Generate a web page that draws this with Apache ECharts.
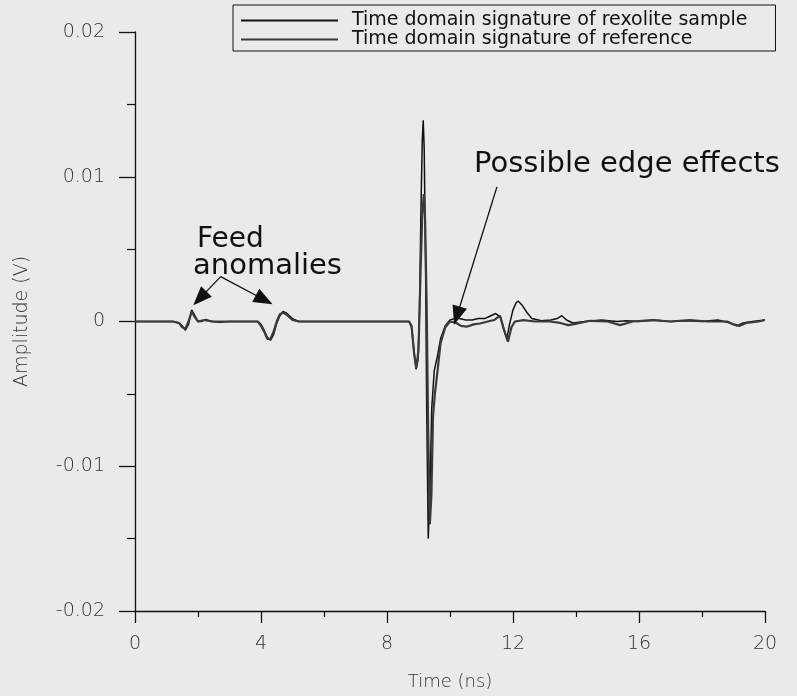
<!DOCTYPE html>
<html>
<head>
<meta charset="utf-8">
<script src="https://cdn.jsdelivr.net/npm/echarts@6/dist/echarts.min.js"></script>
<style>
html,body{margin:0;padding:0;background:#eaeaea;}
#chart{width:797px;height:696px;}
</style>
</head>
<body>
<div id="chart"></div>
<script>
// ---- data ----
var seriesNames = ['Time domain signature of rexolite sample', 'Time domain signature of reference'];

var timeSample = [0, 1.2, 1.4, 1.5, 1.6, 1.7, 1.8, 1.9, 2.0, 2.1, 2.25, 2.4, 2.7, 3.0, 3.9, 4.0, 4.1, 4.2, 4.3, 4.4, 4.5, 4.6, 4.7, 4.8, 4.9, 5.0, 5.2, 6.0, 7.0, 8.0, 8.7, 8.78, 8.85, 8.92, 8.98, 9.03, 9.08, 9.12, 9.15, 9.18, 9.22, 9.26, 9.31, 9.36, 9.42, 9.5, 9.6, 9.7, 9.85, 10.0, 10.15, 10.3, 10.5, 10.7, 10.9, 11.1, 11.3, 11.45, 11.6, 11.7, 11.8, 11.9, 12.0, 12.1, 12.17, 12.3, 12.45, 12.6, 12.9, 13.2, 13.4, 13.55, 13.7, 13.9, 14.3, 14.8, 15.3, 15.6, 16.0, 16.5, 17.0, 17.5, 18.0, 18.5, 18.9, 19.1, 19.3, 19.6, 20];
var ampSample = [0, 0, -0.0001, -0.0003, -0.0006, -0.0002, 0.0008, 0.0004, 0.0000, 0.0000, 0.00015, 0.0000, -0.00005, 0, 0, -0.0002, -0.0006, -0.0011, -0.0013, -0.0009, -0.0001, 0.0004, 0.0007, 0.0006, 0.0004, 0.0002, 0.0000, 0, 0, 0, 0, -0.0004, -0.0019, -0.0033, -0.0027, 0.0005, 0.0080, 0.0125, 0.0139, 0.0120, 0.0050, -0.0060, -0.0150, -0.0120, -0.0060, -0.0034, -0.0024, -0.0012, -0.0003, 0.0001, 0.0002, 0.0002, 0.0001, 0.0001, 0.0002, 0.0002, 0.0004, 0.00055, 0.0003, -0.0004, -0.0012, -0.0001, 0.0008, 0.0013, 0.0014, 0.0011, 0.0006, 0.0002, 0.00005, 0.0001, 0.0002, 0.0004, 0.0001, -0.0001, 0, 0.0001, 0, 0.00005, 0, 0.0001, 0, 0.00005, 0, 0.0001, -0.0001, -0.0003, -0.0001, 0, 0.0001];

var timeRef = [0, 1.2, 1.4, 1.5, 1.6, 1.7, 1.8, 1.9, 2.0, 2.2, 2.5, 3.0, 3.9, 4.0, 4.1, 4.2, 4.3, 4.4, 4.5, 4.6, 4.7, 4.8, 4.9, 5.0, 5.2, 6.0, 7.0, 8.0, 8.7, 8.78, 8.86, 8.93, 9.0, 9.06, 9.12, 9.17, 9.21, 9.26, 9.31, 9.36, 9.41, 9.46, 9.52, 9.6, 9.7, 9.85, 10.0, 10.2, 10.35, 10.53, 10.75, 10.95, 11.2, 11.4, 11.59, 11.7, 11.84, 11.95, 12.06, 12.33, 12.7, 13.17, 13.5, 13.75, 13.9, 14.44, 15.0, 15.4, 15.8, 16.4, 17.0, 17.6, 18.2, 18.8, 19.0, 19.2, 19.4, 19.8, 20];
var ampRef = [0, 0, -0.0001, -0.0004, -0.0005, 0.0000, 0.0007, 0.0003, 0.0000, 0.0001, 0, 0, 0, -0.0003, -0.0007, -0.0012, -0.0012, -0.0007, 0.0000, 0.0005, 0.0006, 0.0005, 0.0003, 0.0001, 0, 0, 0, 0, 0, -0.0003, -0.0022, -0.0032, -0.0020, 0.0030, 0.0075, 0.0088, 0.0070, 0.0010, -0.0080, -0.0140, -0.0120, -0.0066, -0.0050, -0.0035, -0.0015, -0.0004, 0.0000, -0.0001, -0.0003, -0.00036, -0.0002, -0.00014, 0.0000, 0.0001, 0.0004, -0.0005, -0.0014, -0.0004, 0.0000, 0.0001, 0.0000, 0.0000, -0.0001, -0.00025, -0.0002, 0.00005, 0, -0.00025, 0, 0.0001, 0, 0.0001, 0, 0, -0.0002, -0.0003, -0.0001, 0, 0.0001];

var xTickLabels = ['0', '4', '8', '12', '16', '20'];
var yTickLabels = ['-0.02', '-0.01', '0', '0.01', '0.02'];

// annotation arrows in data coordinates: [from, to]
var edgeArrow = [[11.49, 0.0093], [10.22, 0.0004]];
var feedArrowLeft = [[2.72, 0.0031], [2.06, 0.0016]];
var feedArrowRight = [[2.72, 0.0031], [4.10, 0.0015]];

function pairs(t, a) { return t.map(function (v, i) { return [v, a[i]]; }); }

var chart = echarts.init(document.getElementById('chart'), null, {renderer: 'canvas'});
var tickFont = {fontFamily: 'DejaVu Sans', fontWeight: 200, fontSize: 19, color: '#333'};
var arrowLine = function (p) { return [{coord: p[0]}, {coord: p[1]}]; };

chart.setOption({
  backgroundColor: '#eaeaea',
  animation: false,
  grid: {left: 135, right: 32, top: 32, bottom: 82},
  legend: {
    left: 233, top: 5,
    orient: 'vertical',
    backgroundColor: '#eaeaea',
    borderColor: '#111', borderWidth: 1,
    padding: [6, 28, 2, 8],
    itemGap: 0,
    itemWidth: 97, itemHeight: 2,
    icon: 'rect',
    textStyle: {fontFamily: 'DejaVu Sans', fontSize: 19, color: '#111', lineHeight: 19, padding: [0, 0, 0, 9]},
    data: seriesNames
  },
  xAxis: {
    type: 'value', min: 0, max: 20, interval: 4,
    name: 'Time (ns)', nameLocation: 'middle', nameGap: 62,
    nameTextStyle: {fontFamily: 'DejaVu Sans', fontWeight: 200, fontSize: 18, color: '#333'},
    axisLine: {show: true, onZero: false, lineStyle: {color: '#111', width: 1.3}},
    axisTick: {show: true, inside: false, length: 12, lineStyle: {color: '#111', width: 1.3}},
    minorTick: {show: true, splitNumber: 2, length: 6, lineStyle: {color: '#111', width: 1.2}},
    splitLine: {show: false},
    axisLabel: Object.assign({margin: 24, formatter: function (v) { return xTickLabels[Math.round(v / 4)]; }}, tickFont)
  },
  yAxis: {
    type: 'value', min: -0.02, max: 0.02, interval: 0.01,
    name: 'Amplitude (V)', nameLocation: 'middle', nameGap: 103, nameRotate: 90,
    nameTextStyle: {fontFamily: 'DejaVu Sans', fontWeight: 200, fontSize: 19, color: '#333'},
    axisLine: {show: true, onZero: false, lineStyle: {color: '#111', width: 1.3}},
    axisTick: {show: true, inside: false, length: 16, lineStyle: {color: '#111', width: 1.3}},
    minorTick: {show: true, splitNumber: 2, length: 8, lineStyle: {color: '#111', width: 1.2}},
    splitLine: {show: false},
    axisLabel: Object.assign({margin: 30, formatter: function (v) { return yTickLabels[Math.round(v / 0.01) + 2]; }}, tickFont)
  },
  series: [
    {
      name: seriesNames[0], type: 'line', data: pairs(timeSample, ampSample),
      showSymbol: false, symbol: 'none',
      lineStyle: {color: '#111', width: 1.5}, itemStyle: {color: '#111'},
      markLine: {
        silent: true, symbol: ['none', 'triangle'], symbolSize: [15, 19],
        label: {show: false},
        lineStyle: {color: '#111', width: 1.3, type: 'solid'},
        data: [arrowLine(edgeArrow), arrowLine(feedArrowLeft), arrowLine(feedArrowRight)]
      }
    },
    {
      name: seriesNames[1], type: 'line', data: pairs(timeRef, ampRef),
      showSymbol: false, symbol: 'none',
      lineStyle: {color: '#3a3a3a', width: 2.2}, itemStyle: {color: '#3a3a3a'}
    }
  ],
  graphic: [
    {type: 'text', left: 197, top: 226, style: {text: 'Feed', font: '28px "DejaVu Sans"', fill: '#111'}},
    {type: 'text', left: 193, top: 252, style: {text: 'anomalies', font: '29px "DejaVu Sans"', fill: '#111'}},
    {type: 'text', left: 474, top: 150, style: {text: 'Possible edge effects', font: '29px "DejaVu Sans"', fill: '#111'}}
  ]
});
</script>
</body>
</html>
